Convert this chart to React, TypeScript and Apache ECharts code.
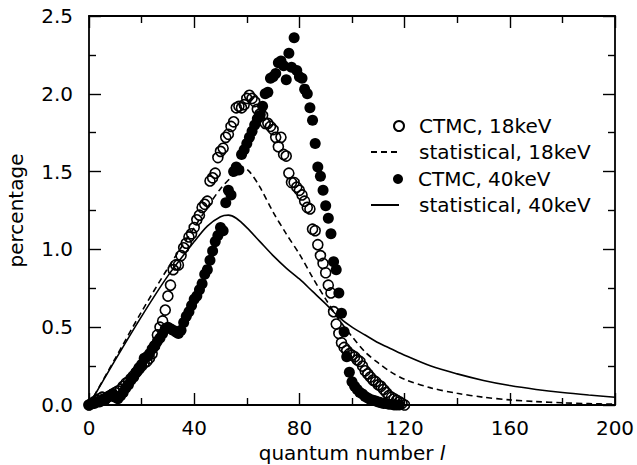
import React, { useEffect, useRef } from "react";
import * as echarts from "echarts";

// quantum numbers l = 0..120 for the CTMC data
const quantumNumbers: number[] = Array.from({ length: 121 }, (_, i) => i);

const ctmc18: number[] = [
  0.0, 0.01, 0.02, 0.03, 0.04, 0.05, 0.04, 0.05, 0.06, 0.07,
  0.08, 0.09, 0.1, 0.12, 0.14, 0.15, 0.17, 0.19, 0.21, 0.23,
  0.25, 0.27, 0.28, 0.3, 0.33, 0.38, 0.45, 0.5, 0.54, 0.61,
  0.7, 0.77, 0.87, 0.9, 0.9, 0.96, 1.01, 1.04, 1.08, 1.1,
  1.14, 1.19, 1.22, 1.27, 1.29, 1.31, 1.44, 1.46, 1.49, 1.59,
  1.63, 1.65, 1.72, 1.74, 1.79, 1.82, 1.91, 1.92, 1.91, 1.93,
  1.97, 1.99, 1.97, 1.95, 1.9, 1.87, 1.86, 1.81, 1.81, 1.79,
  1.77, 1.72, 1.66, 1.72, 1.61, 1.6, 1.49, 1.43, 1.43, 1.4,
  1.38, 1.35, 1.31, 1.27, 1.26, 1.13, 1.12, 1.03, 0.96, 0.91,
  0.85, 0.77, 0.72, 0.6, 0.52, 0.46, 0.4, 0.37, 0.35, 0.33,
  0.32, 0.31, 0.29, 0.28, 0.25, 0.22, 0.2, 0.18, 0.16, 0.15,
  0.13, 0.12, 0.1, 0.08, 0.06, 0.05, 0.04, 0.03, 0.02, 0.01,
  0.0,
];

const ctmc40: number[] = [
  0.0, 0.01, 0.01, 0.02, 0.02, 0.03, 0.03, 0.05, 0.06, 0.07,
  0.05, 0.04, 0.06, 0.08, 0.11, 0.13, 0.16, 0.18, 0.21, 0.24,
  0.26, 0.3, 0.31, 0.33, 0.36, 0.38, 0.41, 0.43, 0.46, 0.49,
  0.5, 0.49, 0.48, 0.47, 0.46, 0.48, 0.53, 0.57, 0.6, 0.64,
  0.68, 0.7, 0.74, 0.78, 0.84, 0.87, 0.93, 0.99, 1.05, 1.09,
  1.14, 1.12, 1.3, 1.38, 1.35, 1.5, 1.53, 1.51, 1.61, 1.64,
  1.68, 1.72, 1.76, 1.8, 1.84, 1.86, 1.92, 2.0, 2.01, 2.1,
  2.11, 2.13, 2.2, 2.21, 2.18, 2.09, 2.26, 2.17, 2.36, 2.15,
  2.11, 2.1, 2.03, 2.0, 1.91, 1.83, 1.68, 1.53, 1.47, 1.38,
  1.28, 1.2, 1.1, 0.92, 0.87, 0.72, 0.59, 0.47, 0.31, 0.21,
  0.15, 0.12, 0.1, 0.08, 0.07, 0.055, 0.045, 0.035, 0.03, 0.025,
  0.02, 0.015, 0.01, 0.01, 0.005, 0.005, 0.0, 0.0, 0.0,
];

const stat18L: number[] = [0, 10, 20, 30, 40, 45, 50, 55, 58, 61, 65, 70, 75, 80, 85, 90, 95, 100, 105, 110, 115, 120, 130, 140, 150, 160, 170, 180, 190, 200];
const stat18: number[] = [0, 0.3, 0.6, 0.88, 1.14, 1.27, 1.39, 1.48, 1.53, 1.5, 1.4, 1.24, 1.1, 0.97, 0.82, 0.68, 0.55, 0.44, 0.34, 0.27, 0.21, 0.165, 0.11, 0.075, 0.05, 0.033, 0.022, 0.014, 0.009, 0.005];

const stat40L: number[] = [0, 10, 20, 30, 40, 45, 50, 53, 56, 60, 65, 70, 75, 80, 85, 90, 95, 100, 105, 110, 115, 120, 130, 140, 150, 160, 170, 180, 190, 200];
const stat40: number[] = [0, 0.29, 0.57, 0.83, 1.05, 1.15, 1.21, 1.22, 1.2, 1.14, 1.05, 0.96, 0.88, 0.81, 0.73, 0.65, 0.565, 0.5, 0.45, 0.4, 0.36, 0.32, 0.25, 0.2, 0.158, 0.125, 0.1, 0.08, 0.064, 0.05];

const xTicks = { min: 0, max: 200, interval: 40 };
const yTicks = { min: 0, max: 2.5, interval: 0.5 };

const names = ["CTMC, 18keV", "statistical, 18keV", "CTMC, 40keV", "statistical, 40keV"];

const FONT = "DejaVu Sans";
const FS = 20;

export default function App() {
  const ref = useRef<HTMLDivElement>(null);
  useEffect(() => {
    if (!ref.current) return;
    const chart = echarts.init(ref.current, undefined, { renderer: "svg" });
    const pairs = (xs: number[], ys: number[]) => ys.map((v, i) => [xs[i], v]);
    const axisLine = { show: true, onZero: false, lineStyle: { color: "#000", width: 1.8 } };
    const tick = { show: true, inside: true, length: 12, lineStyle: { color: "#000", width: 1.4 } };
    const minor = { show: true, splitNumber: 2, length: 7, lineStyle: { color: "#000", width: 1.4 } };
    const labelStyle = { color: "#000", fontSize: FS, fontFamily: FONT };
    const legendBase = {
      orient: "vertical",
      itemHeight: 10,
      padding: 0,
      textStyle: { color: "#000", fontSize: FS, fontFamily: FONT },
      selectedMode: false,
    };
    const lineLegendItemStyle = { color: "rgba(0,0,0,0)", borderColor: "rgba(0,0,0,0)", borderWidth: 0 };
    chart.setOption({
      animation: false,
      backgroundColor: "#fff",
      grid: { left: 89, right: 22, top: 16, bottom: 60, containLabel: false, outerBoundsMode: "none" },
      xAxis: [
        {
          type: "value",
          ...xTicks,
          axisLine,
          axisTick: tick,
          minorTick: minor,
          splitLine: { show: false },
          axisLabel: { ...labelStyle, margin: 13, formatter: (v: number) => String(v) },
          name: "quantum number {i|l}",
          nameLocation: "middle",
          nameGap: 33,
          nameTextStyle: {
            ...labelStyle,
            rich: { i: { fontStyle: "italic", fontSize: FS, fontFamily: FONT, color: "#000" } },
          },
        },
        {
          type: "value",
          position: "top",
          ...xTicks,
          axisLine,
          axisTick: tick,
          minorTick: minor,
          splitLine: { show: false },
          axisLabel: { show: false },
        },
      ],
      yAxis: [
        {
          type: "value",
          ...yTicks,
          axisLine,
          axisTick: tick,
          minorTick: minor,
          splitLine: { show: false },
          axisLabel: { ...labelStyle, margin: 16, formatter: (v: number) => v.toFixed(1) },
          name: "percentage",
          nameLocation: "middle",
          nameGap: 63,
          nameTextStyle: labelStyle,
        },
        {
          type: "value",
          position: "right",
          ...yTicks,
          axisLine,
          axisTick: tick,
          minorTick: minor,
          splitLine: { show: false },
          axisLabel: { show: false },
        },
      ],
      legend: [
        { ...legendBase, data: [names[0]], left: 393, top: 116, itemWidth: 10, textStyle: { ...legendBase.textStyle, padding: [0, 0, 0, 10] } },
        { ...legendBase, data: [names[1]], left: 370, top: 142, itemWidth: 28, itemStyle: lineLegendItemStyle, textStyle: { ...legendBase.textStyle, padding: [0, 0, 0, 15] } },
        { ...legendBase, data: [names[2]], left: 393, top: 169, itemWidth: 10, textStyle: { ...legendBase.textStyle, padding: [0, 0, 0, 10] } },
        { ...legendBase, data: [names[3]], left: 370, top: 195, itemWidth: 28, itemStyle: lineLegendItemStyle, textStyle: { ...legendBase.textStyle, padding: [0, 0, 0, 15] } },
      ],
      series: [
        {
          name: names[1],
          type: "line",
          data: pairs(stat18L, stat18),
          showSymbol: false,
          symbol: "none",
          smooth: 0.3,
          lineStyle: { color: "#000", width: 1.6, type: [6, 4] },
          itemStyle: { color: "#000" },
          z: 2,
        },
        {
          name: names[3],
          type: "line",
          data: pairs(stat40L, stat40),
          showSymbol: false,
          symbol: "none",
          smooth: 0.3,
          lineStyle: { color: "#000", width: 1.6, type: "solid" },
          itemStyle: { color: "#000" },
          z: 2,
        },
        {
          name: names[2],
          type: "scatter",
          data: pairs(quantumNumbers, ctmc40),
          symbol: "circle",
          symbolSize: 11,
          itemStyle: { color: "#000", opacity: 1 },
          z: 3,
        },
        {
          name: names[0],
          type: "scatter",
          data: pairs(quantumNumbers, ctmc18),
          symbol: "circle",
          symbolSize: 10,
          itemStyle: { color: "rgba(255,255,255,0)", borderColor: "#000", borderWidth: 1.6, opacity: 1 },
          z: 4,
        },
      ],
    });
    return () => chart.dispose();
  }, []);
  return <div ref={ref} style={{ width: 637, height: 465, position: "absolute", left: 0, top: 0 }} />;
}
